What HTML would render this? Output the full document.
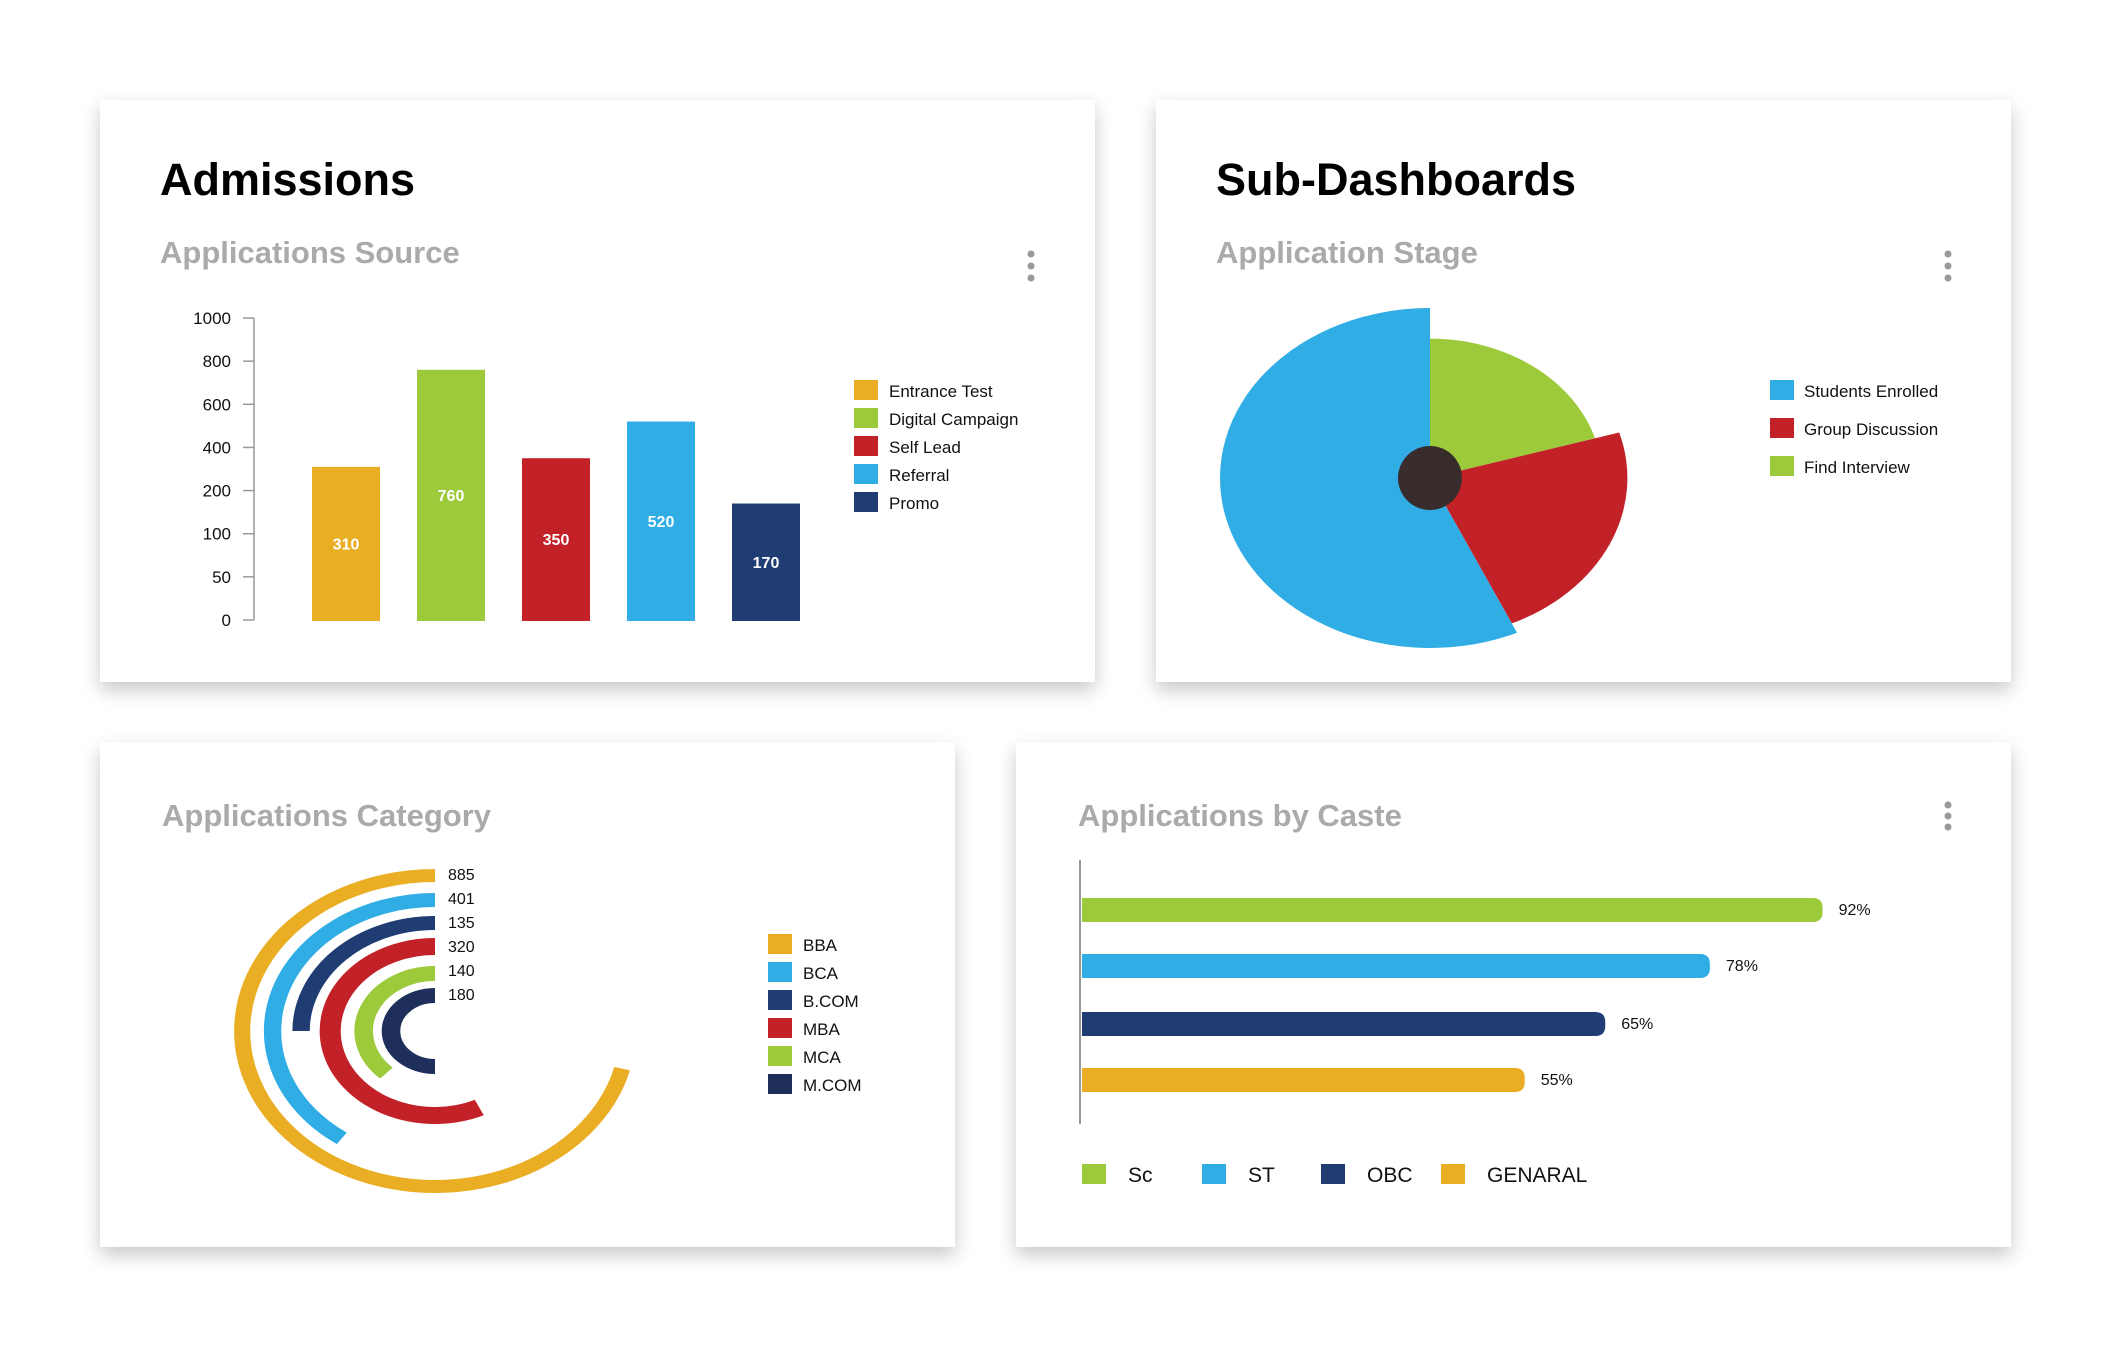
<!DOCTYPE html>
<html><head><meta charset="utf-8"><style>
html,body{margin:0;padding:0;background:#fff;width:2112px;height:1348px;overflow:hidden;font-family:"Liberation Sans",sans-serif}
.card{position:absolute;background:#fff;box-shadow:0 8px 18px rgba(0,0,0,0.22)}
svg{position:absolute;left:0;top:0}
</style></head><body>
<div class="card" style="left:100px;top:100px;width:995px;height:582px"></div>
<div class="card" style="left:1156px;top:100px;width:855px;height:582px"></div>
<div class="card" style="left:100px;top:742px;width:855px;height:505px"></div>
<div class="card" style="left:1016px;top:742px;width:995px;height:505px"></div>
<svg id="s" width="2112" height="1348" xmlns="http://www.w3.org/2000/svg" font-family="Liberation Sans, sans-serif">
<text x="160" y="195" font-size="45" font-weight="bold" fill="#000">Admissions</text>
<text x="160" y="263" font-size="31" font-weight="bold" fill="#aaa">Applications Source</text>
<g fill="#999"><circle cx="1031" cy="254" r="3.5"/><circle cx="1031" cy="266" r="3.5"/><circle cx="1031" cy="278" r="3.5"/></g>
<text x="1216" y="195" font-size="45" font-weight="bold" fill="#000">Sub-Dashboards</text>
<text x="1216" y="263" font-size="31" font-weight="bold" fill="#aaa">Application Stage</text>
<g fill="#999"><circle cx="1948" cy="254" r="3.5"/><circle cx="1948" cy="266" r="3.5"/><circle cx="1948" cy="278" r="3.5"/></g>
<text x="162" y="826" font-size="31" font-weight="bold" fill="#aaa">Applications Category</text>
<text x="1078" y="826" font-size="31" font-weight="bold" fill="#aaa">Applications by Caste</text>
<g fill="#999"><circle cx="1948" cy="805" r="3.5"/><circle cx="1948" cy="816" r="3.5"/><circle cx="1948" cy="827" r="3.5"/></g>
<g id="bar"></g><g id="pie"></g><g id="rad"></g><g id="caste"></g>
</svg>
<script>
const NS='http://www.w3.org/2000/svg';
function mk(p,t,a,txt){const e=document.createElementNS(NS,t);for(const k in a)e.setAttribute(k,a[k]);if(txt!==undefined)e.textContent=txt;p.appendChild(e);return e;}
const C={orange:'#EAAE24',green:'#9CCA3B',red:'#C22127',blue:'#30ADE4',navy:'#1F3D73',dnavy:'#1D2F5A'};

// ---- Bar chart: Applications Source
const srcCategories=['Entrance Test','Digital Campaign','Self Lead','Referral','Promo'];
const srcValues=[310,760,350,520,170];
const srcColors=[C.orange,C.green,C.red,C.blue,C.navy];
const srcTicks=[0,50,100,200,400,600,800,1000];
(function(){
 const g=document.getElementById('bar');
 const y0=620,step=43.14,ax=254;
 function y(v){for(let i=0;i<srcTicks.length-1;i++){if(v<=srcTicks[i+1]){return y0-(i+(v-srcTicks[i])/(srcTicks[i+1]-srcTicks[i]))*step;}}return y0-(srcTicks.length-1)*step;}
 const axis=mk(g,'line',{x1:ax,x2:ax,y1:y(1000),y2:y0,stroke:'#999','stroke-width':1.5});
 
 
 srcTicks.forEach(t=>{
  const tk=mk(g,'line',{x1:ax-11,x2:ax,y1:y(t),y2:y(t),stroke:'#999','stroke-width':1.5});
  
  
  const tl=mk(g,'text',{x:231,y:y(t)+6,'font-size':17,'text-anchor':'end',fill:'#111'},t);
  
  
 });
 srcValues.forEach((v,i)=>{
  const x=312+i*105;
  const r=mk(g,'rect',{x:x,y:y(v),width:68,height:y0+1-y(v),fill:srcColors[i]});
  
  
  const t=mk(g,'text',{x:x+34,y:(y(v)+y0)/2+6,'font-size':16,'font-weight':'bold','text-anchor':'middle',fill:'#fff'},v);
  
  
 });
 srcCategories.forEach((c,i)=>{
  const sq=mk(g,'rect',{x:854,y:380+i*28,width:24,height:20,fill:srcColors[i]});
  
  
  const t=mk(g,'text',{x:889,y:397+i*28,'font-size':17,fill:'#111'},c);
  
  
 });
})();

// ---- Pie: Application Stage (variable radius)
const stageLabels=['Find Interview','Group Discussion','Students Enrolled'];
const stageShares=[20.4,22.8,56.8];
const stageRadius=[0.82,0.94,1.0];
const stageColors=[C.green,C.red,C.blue];
(function(){
 const g=document.getElementById('pie');
 const cx=1430,cy=478,RX=210,RY=170;
 const tot=stageShares.reduce((a,b)=>a+b,0);
 let a0=0;
 stageShares.forEach((s,i)=>{
  const a1=a0+s/tot*2*Math.PI;
  const rx=RX*stageRadius[i],ry=RY*stageRadius[i];
  const p=(a)=>[cx+rx*Math.sin(a),cy-ry*Math.cos(a)];
  const [x0,y0]=p(a0),[x1,y1]=p(a1);
  const d=`M${cx},${cy} L${x0},${y0} A${rx},${ry} 0 ${(a1-a0)>Math.PI?1:0} 1 ${x1},${y1} Z`;
  const e=mk(g,'path',{d:d,fill:stageColors[i]});
  
  
  a0=a1;
 });
 const h=mk(g,'circle',{cx:cx,cy:cy,r:32,fill:'#382C2D'});
 
 
 const order=[2,1,0];
 order.forEach((k,i)=>{
  const sq=mk(g,'rect',{x:1770,y:380+i*38,width:24,height:20,fill:stageColors[k]});
  
  
  const t=mk(g,'text',{x:1804,y:397+i*38,'font-size':17,fill:'#111'},stageLabels[k]);
  
  
 });
})();

// ---- Radial bars: Applications Category
const catLabels=['BBA','BCA','B.COM','MBA','MCA','M.COM'];
const catValues=[885,401,135,320,140,180];
const catSweepDeg=[256,145,90,205,137,180];
const catColors=[C.orange,C.blue,C.navy,C.red,C.green,C.dnavy];
(function(){
 const g=document.getElementById('rad');
 const inner=mk(g,'g',{transform:'translate(435,1031) scale(1.24,1)'});
 const radii=[155.5,131,108,84.5,57.5,35.5],widths=[13,14,14,17,15,15];
 catValues.forEach((v,i)=>{
  const r=radii[i],s=catSweepDeg[i]*Math.PI/180;
  const ex=-r*Math.sin(s),ey=-r*Math.cos(s);
  const d=`M0,${-r} A${r},${r} 0 ${catSweepDeg[i]>180?1:0} 0 ${ex},${ey}`;
  const e=mk(inner,'path',{d:d,fill:'none',stroke:catColors[i],'stroke-width':widths[i]});
  
  
  const t=mk(g,'text',{x:448,y:880+i*24,'font-size':16,fill:'#111'},v);
  
  
 });
 catLabels.forEach((c,i)=>{
  const sq=mk(g,'rect',{x:768,y:934+i*28,width:24,height:20,fill:catColors[i]});
  
  
  const t=mk(g,'text',{x:803,y:951+i*28,'font-size':17,fill:'#111'},c);
  
  
 });
})();

// ---- Horizontal bars: Applications by Caste
const casteLabels=['Sc','ST','OBC','GENARAL'];
const castePct=[92,78,65,55];
const casteColors=[C.green,C.blue,C.navy,C.orange];
(function(){
 const g=document.getElementById('caste');
 const x0=1082,full=805;
 const xs=(v)=>x0+v/100*full;
 const ax=mk(g,'line',{x1:1080,x2:1080,y1:860,y2:1124,stroke:'#999','stroke-width':2});
 
 
 const ys=[898,954,1012,1068];
 castePct.forEach((v,i)=>{
  const w=xs(v)-x0;
  const d=`M${x0},${ys[i]} H${x0+w-10} Q${x0+w},${ys[i]} ${x0+w},${ys[i]+10} V${ys[i]+14} Q${x0+w},${ys[i]+24} ${x0+w-10},${ys[i]+24} H${x0} Z`;
  const b=mk(g,'path',{d:d,fill:casteColors[i]});
  
  
  const t=mk(g,'text',{x:xs(v)+16,y:ys[i]+17,'font-size':16,fill:'#111'},v+'%');
  
  
 });
 const lx=[1082,1202,1321,1441];
 casteLabels.forEach((c,i)=>{
  const sq=mk(g,'rect',{x:lx[i],y:1164,width:24,height:20,fill:casteColors[i]});
  
  
  const t=mk(g,'text',{x:lx[i]+46,y:1182,'font-size':21,fill:'#111'},c);
  
  
 });
})();
</script>
</body></html>
